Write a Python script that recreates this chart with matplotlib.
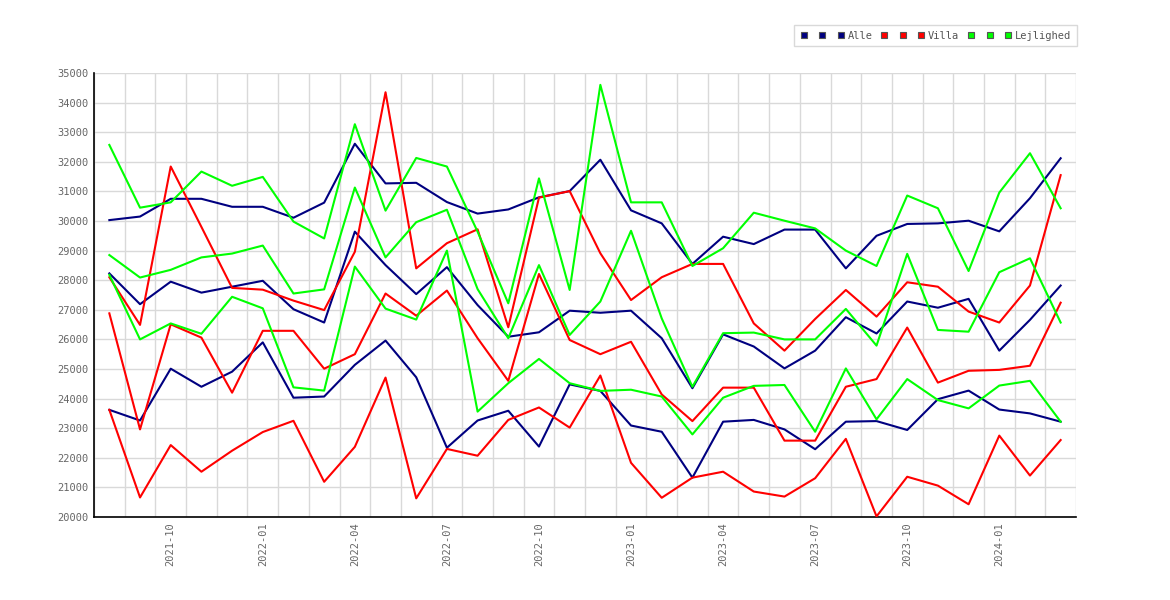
import numpy as np
import matplotlib
matplotlib.use("Agg")
import matplotlib.pyplot as plt
from matplotlib.lines import Line2D

# monthly values, 2021-08 .. 2024-03
alle_high = [30030, 30150, 30750, 30750, 30480, 30480, 30110, 30620, 32610, 31270, 31290, 30640,
             30250, 30390, 30800, 31010, 32070, 30360, 29920, 28550, 29470, 29220, 29710, 29710,
             28400, 29500, 29900, 29920, 30010, 29650, 30770, 32120]
alle_mid = [28230, 27190, 27950, 27580, 27780, 27980, 27020, 26570, 29640, 28510, 27530, 28440,
            27160, 26090, 26240, 26970, 26900, 26970, 26040, 24350, 26170, 25760, 25020, 25620,
            26750, 26200, 27280, 27070, 27370, 25620, 26660, 27820]
alle_low = [23620, 23260, 25010, 24400, 24910, 25900, 24030, 24070, 25140, 25960, 24720, 22340,
            23260, 23590, 22380, 24480, 24260, 23090, 22880, 21330, 23220, 23280, 22960, 22290,
            23220, 23240, 22940, 23980, 24270, 23630, 23500, 23220]

villa_high = [28100, 26490, 31840, 29800, 27740, 27680, 27310, 26990, 28960, 34350, 28400, 29250,
              29720, 26410, 30790, 31010, 28910, 27330, 28100, 28550, 28550, 26540, 25620, 26690,
              27670, 26770, 27930, 27780, 26940, 26570, 27820, 31550]
villa_mid = [26880, 22960, 26510, 26060, 24200, 26290, 26290, 25010, 25500, 27550, 26800, 27650,
             26040, 24600, 28210, 25980, 25500, 25920, 24140, 23240, 24370, 24370, 22580, 22580,
             24400, 24660, 26400, 24540, 24940, 24970, 25110, 27240]
villa_low = [23620, 20660, 22430, 21530, 22240, 22870, 23250, 21190, 22370, 24710, 20630, 22300,
             22070, 23280, 23700, 23020, 24780, 21830, 20650, 21330, 21530, 20860, 20690, 21310,
             22640, 20020, 21360, 21060, 20430, 22750, 21400, 22600]

lejl_high = [32570, 30450, 30630, 31670, 31190, 31490, 29980, 29410, 33270, 30350, 32130, 31840,
             29640, 27220, 31440, 27670, 34600, 30630, 30630, 28480, 29080, 30280, 30010, 29750,
             29000, 28480, 30860, 30430, 28310, 30960, 32290, 30430]
lejl_mid = [28850, 28090, 28350, 28770, 28900, 29170, 27550, 27690, 31130, 28770, 29960, 30380,
            27700, 26040, 28510, 26150, 27280, 29670, 26710, 24400, 26210, 26230, 26000, 26000,
            27030, 25790, 28890, 26320, 26260, 28270, 28740, 26570]
lejl_low = [28180, 26000, 26540, 26190, 27440, 27050, 24380, 24270, 28460, 27040, 26670, 29000,
            23560, 24520, 25340, 24520, 24260, 24300, 24070, 22790, 24030, 24430, 24460, 22880,
            25020, 23300, 24660, 23950, 23670, 24440, 24600, 23220]

tick_pos = [2, 5, 8, 11, 14, 17, 20, 23, 26, 29]
tick_labels = ["2021-10", "2022-01", "2022-04", "2022-07", "2022-10",
               "2023-01", "2023-04", "2023-07", "2023-10", "2024-01"]

groups = [("Alle", "#000080", [alle_high, alle_mid, alle_low]),
          ("Villa", "#ff0000", [villa_high, villa_mid, villa_low]),
          ("Lejlighed", "#00ff00", [lejl_high, lejl_mid, lejl_low])]

plt.rcParams["font.family"] = "DejaVu Sans Mono"
txt_col = "#666666"

fig = plt.figure(figsize=(11.7, 6), dpi=100)
ax = fig.add_axes([94 / 1170, 1 - 517 / 600, (1076 - 94) / 1170, (517 - 73) / 600])

x = np.arange(len(alle_high))
handles, labels = [], []
for name, col, series in groups:
    for i, s in enumerate(series):
        ax.plot(x, s, color=col, lw=1.5, zorder=3)
        handles.append(Line2D([], [], marker="s", ls="none", markersize=5,
                              markerfacecolor=col, markeredgecolor="#555555", markeredgewidth=0.8))
        labels.append(name if i == 2 else "")

ax.set_xlim(-0.5, len(x) - 0.5)
ax.set_ylim(20000, 35000)
ax.set_yticks(np.arange(20000, 35001, 1000))
ax.set_xticks(tick_pos)
ax.set_xticklabels(tick_labels, rotation=90)
ax.set_xticks(np.arange(-0.5, len(x), 1), minor=True)
ax.grid(which="minor", axis="x", color="#d9d9d9", lw=1)
ax.grid(which="major", axis="y", color="#d9d9d9", lw=1)
ax.tick_params(which="both", length=0, labelsize=7.5, labelcolor=txt_col, pad=4)

for side in ["top", "right"]:
    ax.spines[side].set_visible(False)
for side in ["left", "bottom"]:
    ax.spines[side].set_color("black")
    ax.spines[side].set_linewidth(1.2)

leg = fig.legend(handles, labels, loc="upper right", bbox_to_anchor=(1077 / 1170, 1 - 25 / 600),
                 ncol=9, fontsize=7.5, frameon=True, fancybox=False, borderpad=0.55,
                 handlelength=0.7, handletextpad=0.3, columnspacing=0.78, borderaxespad=0)
leg.get_frame().set_edgecolor("#d0d0d0")
leg.get_frame().set_linewidth(1)
for t in leg.get_texts():
    t.set_color("#555555")

fig.savefig("out.png", dpi=100)
